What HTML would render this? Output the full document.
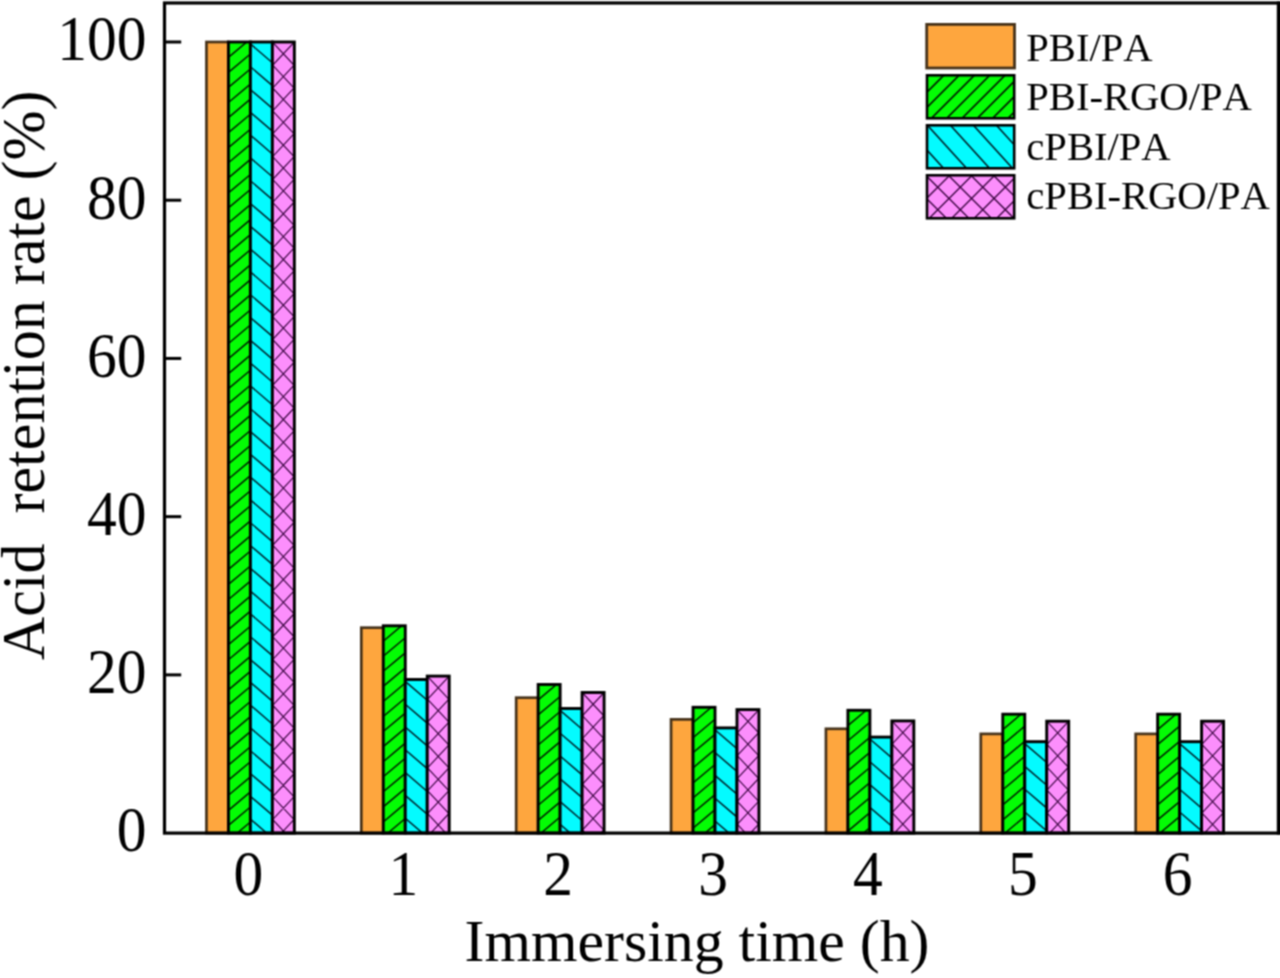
<!DOCTYPE html>
<html lang="en"><head><meta charset="utf-8"><title>Acid retention rate</title>
<style>html,body{margin:0;padding:0;background:#fff;overflow:hidden}svg{display:block}text{font-family:"Liberation Serif","Times New Roman",serif;fill:#000;font-kerning:none}</style>
</head><body>
<svg width="1280" height="978" viewBox="0 0 1280 978">
<defs><filter id="soft" color-interpolation-filters="sRGB" filterUnits="userSpaceOnUse" x="-20" y="-20" width="1320" height="1018"><feConvolveMatrix order="3" kernelMatrix="1 2 1 2 4 2 1 2 1" divisor="16" edgeMode="duplicate" preserveAlpha="true"/></filter></defs>
<g filter="url(#soft)">
<rect x="-20" y="-20" width="1320" height="1018" fill="#fff"/>
<rect x="206.46" y="42.00" width="21.97" height="791.10" fill="#FEA63E" stroke="#46321a" stroke-width="2.7"/>
<rect x="228.43" y="42.00" width="21.97" height="791.10" fill="#04FD04"/>
<clipPath id="c1"><rect x="228.43" y="42.00" width="21.97" height="791.10"/></clipPath><g clip-path="url(#c1)" stroke="#011a01" stroke-width="1.5" fill="none"><path d="M228.43 42.30L250.40 23.85M228.43 57.36L250.40 38.91M228.43 72.42L250.40 53.97M228.43 87.48L250.40 69.03M228.43 102.54L250.40 84.09M228.43 117.60L250.40 99.15M228.43 132.66L250.40 114.21M228.43 147.72L250.40 129.27M228.43 162.78L250.40 144.33M228.43 177.84L250.40 159.39M228.43 192.90L250.40 174.45M228.43 207.96L250.40 189.51M228.43 223.02L250.40 204.57M228.43 238.08L250.40 219.63M228.43 253.14L250.40 234.69M228.43 268.20L250.40 249.75M228.43 283.26L250.40 264.81M228.43 298.32L250.40 279.87M228.43 313.38L250.40 294.93M228.43 328.44L250.40 309.99M228.43 343.50L250.40 325.05M228.43 358.56L250.40 340.11M228.43 373.62L250.40 355.17M228.43 388.68L250.40 370.23M228.43 403.74L250.40 385.29M228.43 418.80L250.40 400.35M228.43 433.86L250.40 415.41M228.43 448.92L250.40 430.47M228.43 463.98L250.40 445.53M228.43 479.04L250.40 460.59M228.43 494.10L250.40 475.65M228.43 509.16L250.40 490.71M228.43 524.22L250.40 505.77M228.43 539.28L250.40 520.83M228.43 554.34L250.40 535.89M228.43 569.40L250.40 550.95M228.43 584.46L250.40 566.01M228.43 599.52L250.40 581.07M228.43 614.58L250.40 596.13M228.43 629.64L250.40 611.19M228.43 644.70L250.40 626.25M228.43 659.76L250.40 641.31M228.43 674.82L250.40 656.37M228.43 689.88L250.40 671.43M228.43 704.94L250.40 686.49M228.43 720.00L250.40 701.55M228.43 735.06L250.40 716.61M228.43 750.12L250.40 731.67M228.43 765.18L250.40 746.73M228.43 780.24L250.40 761.79M228.43 795.30L250.40 776.85M228.43 810.36L250.40 791.91M228.43 825.42L250.40 806.97M228.43 840.48L250.40 822.03"/></g>
<rect x="228.43" y="42.00" width="21.97" height="791.10" fill="none" stroke="#000" stroke-width="2.9"/>
<rect x="250.40" y="42.00" width="21.97" height="791.10" fill="#04FBFF"/>
<clipPath id="c2"><rect x="250.40" y="42.00" width="21.97" height="791.10"/></clipPath><g clip-path="url(#c2)" stroke="#01222a" stroke-width="1.5" fill="none"><path d="M250.40 43.90L272.37 62.79M250.40 66.70L272.37 85.59M250.40 89.50L272.37 108.39M250.40 112.30L272.37 131.19M250.40 135.10L272.37 153.99M250.40 157.90L272.37 176.79M250.40 180.70L272.37 199.59M250.40 203.50L272.37 222.39M250.40 226.30L272.37 245.19M250.40 249.10L272.37 267.99M250.40 271.90L272.37 290.79M250.40 294.70L272.37 313.59M250.40 317.50L272.37 336.39M250.40 340.30L272.37 359.19M250.40 363.10L272.37 381.99M250.40 385.90L272.37 404.79M250.40 408.70L272.37 427.59M250.40 431.50L272.37 450.39M250.40 454.30L272.37 473.19M250.40 477.10L272.37 495.99M250.40 499.90L272.37 518.79M250.40 522.70L272.37 541.59M250.40 545.50L272.37 564.39M250.40 568.30L272.37 587.19M250.40 591.10L272.37 609.99M250.40 613.90L272.37 632.79M250.40 636.70L272.37 655.59M250.40 659.50L272.37 678.39M250.40 682.30L272.37 701.19M250.40 705.10L272.37 723.99M250.40 727.90L272.37 746.79M250.40 750.70L272.37 769.59M250.40 773.50L272.37 792.39M250.40 796.30L272.37 815.19M250.40 819.10L272.37 837.99"/></g>
<rect x="250.40" y="42.00" width="21.97" height="791.10" fill="none" stroke="#000" stroke-width="2.9"/>
<rect x="272.37" y="42.00" width="21.97" height="791.10" fill="#FC8EFC"/>
<clipPath id="c3"><rect x="272.37" y="42.00" width="21.97" height="791.10"/></clipPath><g clip-path="url(#c3)" stroke="#3a0540" stroke-width="1.15" fill="none"><path d="M272.37 42.64L294.34 19.13M272.37 65.50L294.34 41.99M272.37 88.36L294.34 64.85M272.37 111.22L294.34 87.71M272.37 134.08L294.34 110.57M272.37 156.94L294.34 133.43M272.37 179.80L294.34 156.29M272.37 202.66L294.34 179.15M272.37 225.52L294.34 202.01M272.37 248.38L294.34 224.87M272.37 271.24L294.34 247.73M272.37 294.10L294.34 270.59M272.37 316.96L294.34 293.45M272.37 339.82L294.34 316.31M272.37 362.68L294.34 339.17M272.37 385.54L294.34 362.03M272.37 408.40L294.34 384.89M272.37 431.26L294.34 407.75M272.37 454.12L294.34 430.61M272.37 476.98L294.34 453.47M272.37 499.84L294.34 476.33M272.37 522.70L294.34 499.19M272.37 545.56L294.34 522.05M272.37 568.42L294.34 544.91M272.37 591.28L294.34 567.77M272.37 614.14L294.34 590.63M272.37 637.00L294.34 613.49M272.37 659.86L294.34 636.35M272.37 682.72L294.34 659.21M272.37 705.58L294.34 682.07M272.37 728.44L294.34 704.93M272.37 751.30L294.34 727.79M272.37 774.16L294.34 750.65M272.37 797.02L294.34 773.51M272.37 819.88L294.34 796.37M272.37 842.74L294.34 819.23M272.37 19.14L294.34 42.65M272.37 42.00L294.34 65.51M272.37 64.86L294.34 88.37M272.37 87.72L294.34 111.23M272.37 110.58L294.34 134.09M272.37 133.44L294.34 156.95M272.37 156.30L294.34 179.81M272.37 179.16L294.34 202.67M272.37 202.02L294.34 225.53M272.37 224.88L294.34 248.39M272.37 247.74L294.34 271.25M272.37 270.60L294.34 294.11M272.37 293.46L294.34 316.97M272.37 316.32L294.34 339.83M272.37 339.18L294.34 362.69M272.37 362.04L294.34 385.55M272.37 384.90L294.34 408.41M272.37 407.76L294.34 431.27M272.37 430.62L294.34 454.13M272.37 453.48L294.34 476.99M272.37 476.34L294.34 499.85M272.37 499.20L294.34 522.71M272.37 522.06L294.34 545.57M272.37 544.92L294.34 568.43M272.37 567.78L294.34 591.29M272.37 590.64L294.34 614.15M272.37 613.50L294.34 637.01M272.37 636.36L294.34 659.87M272.37 659.22L294.34 682.73M272.37 682.08L294.34 705.59M272.37 704.94L294.34 728.45M272.37 727.80L294.34 751.31M272.37 750.66L294.34 774.17M272.37 773.52L294.34 797.03M272.37 796.38L294.34 819.89M272.37 819.24L294.34 842.75"/></g>
<rect x="272.37" y="42.00" width="21.97" height="791.10" fill="none" stroke="#000" stroke-width="2.9"/>
<rect x="361.33" y="627.70" width="21.97" height="205.40" fill="#FEA63E" stroke="#46321a" stroke-width="2.7"/>
<rect x="383.30" y="625.80" width="21.97" height="207.30" fill="#04FD04"/>
<clipPath id="c4"><rect x="383.30" y="625.80" width="21.97" height="207.30"/></clipPath><g clip-path="url(#c4)" stroke="#011a01" stroke-width="1.5" fill="none"><path d="M383.30 626.10L405.27 607.65M383.30 641.16L405.27 622.71M383.30 656.22L405.27 637.77M383.30 671.28L405.27 652.83M383.30 686.34L405.27 667.89M383.30 701.40L405.27 682.95M383.30 716.46L405.27 698.01M383.30 731.52L405.27 713.07M383.30 746.58L405.27 728.13M383.30 761.64L405.27 743.19M383.30 776.70L405.27 758.25M383.30 791.76L405.27 773.31M383.30 806.82L405.27 788.37M383.30 821.88L405.27 803.43M383.30 836.94L405.27 818.49"/></g>
<rect x="383.30" y="625.80" width="21.97" height="207.30" fill="none" stroke="#000" stroke-width="2.9"/>
<rect x="405.27" y="679.50" width="21.97" height="153.60" fill="#04FBFF"/>
<clipPath id="c5"><rect x="405.27" y="679.50" width="21.97" height="153.60"/></clipPath><g clip-path="url(#c5)" stroke="#01222a" stroke-width="1.5" fill="none"><path d="M405.27 681.40L427.24 700.29M405.27 704.20L427.24 723.09M405.27 727.00L427.24 745.89M405.27 749.80L427.24 768.69M405.27 772.60L427.24 791.49M405.27 795.40L427.24 814.29M405.27 818.20L427.24 837.09"/></g>
<rect x="405.27" y="679.50" width="21.97" height="153.60" fill="none" stroke="#000" stroke-width="2.9"/>
<rect x="427.24" y="676.10" width="21.97" height="157.00" fill="#FC8EFC"/>
<clipPath id="c6"><rect x="427.24" y="676.10" width="21.97" height="157.00"/></clipPath><g clip-path="url(#c6)" stroke="#3a0540" stroke-width="1.15" fill="none"><path d="M427.24 676.74L449.21 653.23M427.24 699.60L449.21 676.09M427.24 722.46L449.21 698.95M427.24 745.32L449.21 721.81M427.24 768.18L449.21 744.67M427.24 791.04L449.21 767.53M427.24 813.90L449.21 790.39M427.24 836.76L449.21 813.25M427.24 653.24L449.21 676.75M427.24 676.10L449.21 699.61M427.24 698.96L449.21 722.47M427.24 721.82L449.21 745.33M427.24 744.68L449.21 768.19M427.24 767.54L449.21 791.05M427.24 790.40L449.21 813.91M427.24 813.26L449.21 836.77"/></g>
<rect x="427.24" y="676.10" width="21.97" height="157.00" fill="none" stroke="#000" stroke-width="2.9"/>
<rect x="516.20" y="697.70" width="21.97" height="135.40" fill="#FEA63E" stroke="#46321a" stroke-width="2.7"/>
<rect x="538.17" y="684.50" width="21.97" height="148.60" fill="#04FD04"/>
<clipPath id="c7"><rect x="538.17" y="684.50" width="21.97" height="148.60"/></clipPath><g clip-path="url(#c7)" stroke="#011a01" stroke-width="1.5" fill="none"><path d="M538.17 684.80L560.14 666.35M538.17 699.86L560.14 681.41M538.17 714.92L560.14 696.47M538.17 729.98L560.14 711.53M538.17 745.04L560.14 726.59M538.17 760.10L560.14 741.65M538.17 775.16L560.14 756.71M538.17 790.22L560.14 771.77M538.17 805.28L560.14 786.83M538.17 820.34L560.14 801.89M538.17 835.40L560.14 816.95M538.17 850.46L560.14 832.01"/></g>
<rect x="538.17" y="684.50" width="21.97" height="148.60" fill="none" stroke="#000" stroke-width="2.9"/>
<rect x="560.14" y="708.50" width="21.97" height="124.60" fill="#04FBFF"/>
<clipPath id="c8"><rect x="560.14" y="708.50" width="21.97" height="124.60"/></clipPath><g clip-path="url(#c8)" stroke="#01222a" stroke-width="1.5" fill="none"><path d="M560.14 710.40L582.11 729.29M560.14 733.20L582.11 752.09M560.14 756.00L582.11 774.89M560.14 778.80L582.11 797.69M560.14 801.60L582.11 820.49M560.14 824.40L582.11 843.29"/></g>
<rect x="560.14" y="708.50" width="21.97" height="124.60" fill="none" stroke="#000" stroke-width="2.9"/>
<rect x="582.11" y="692.50" width="21.97" height="140.60" fill="#FC8EFC"/>
<clipPath id="c9"><rect x="582.11" y="692.50" width="21.97" height="140.60"/></clipPath><g clip-path="url(#c9)" stroke="#3a0540" stroke-width="1.15" fill="none"><path d="M582.11 693.14L604.08 669.63M582.11 716.00L604.08 692.49M582.11 738.86L604.08 715.35M582.11 761.72L604.08 738.21M582.11 784.58L604.08 761.07M582.11 807.44L604.08 783.93M582.11 830.30L604.08 806.79M582.11 853.16L604.08 829.65M582.11 669.64L604.08 693.15M582.11 692.50L604.08 716.01M582.11 715.36L604.08 738.87M582.11 738.22L604.08 761.73M582.11 761.08L604.08 784.59M582.11 783.94L604.08 807.45M582.11 806.80L604.08 830.31M582.11 829.66L604.08 853.17"/></g>
<rect x="582.11" y="692.50" width="21.97" height="140.60" fill="none" stroke="#000" stroke-width="2.9"/>
<rect x="671.07" y="719.40" width="21.97" height="113.70" fill="#FEA63E" stroke="#46321a" stroke-width="2.7"/>
<rect x="693.04" y="707.30" width="21.97" height="125.80" fill="#04FD04"/>
<clipPath id="c10"><rect x="693.04" y="707.30" width="21.97" height="125.80"/></clipPath><g clip-path="url(#c10)" stroke="#011a01" stroke-width="1.5" fill="none"><path d="M693.04 707.60L715.01 689.15M693.04 722.66L715.01 704.21M693.04 737.72L715.01 719.27M693.04 752.78L715.01 734.33M693.04 767.84L715.01 749.39M693.04 782.90L715.01 764.45M693.04 797.96L715.01 779.51M693.04 813.02L715.01 794.57M693.04 828.08L715.01 809.63M693.04 843.14L715.01 824.69"/></g>
<rect x="693.04" y="707.30" width="21.97" height="125.80" fill="none" stroke="#000" stroke-width="2.9"/>
<rect x="715.01" y="727.90" width="21.97" height="105.20" fill="#04FBFF"/>
<clipPath id="c11"><rect x="715.01" y="727.90" width="21.97" height="105.20"/></clipPath><g clip-path="url(#c11)" stroke="#01222a" stroke-width="1.5" fill="none"><path d="M715.01 729.80L736.98 748.69M715.01 752.60L736.98 771.49M715.01 775.40L736.98 794.29M715.01 798.20L736.98 817.09M715.01 821.00L736.98 839.89"/></g>
<rect x="715.01" y="727.90" width="21.97" height="105.20" fill="none" stroke="#000" stroke-width="2.9"/>
<rect x="736.98" y="709.60" width="21.97" height="123.50" fill="#FC8EFC"/>
<clipPath id="c12"><rect x="736.98" y="709.60" width="21.97" height="123.50"/></clipPath><g clip-path="url(#c12)" stroke="#3a0540" stroke-width="1.15" fill="none"><path d="M736.98 710.24L758.95 686.73M736.98 733.10L758.95 709.59M736.98 755.96L758.95 732.45M736.98 778.82L758.95 755.31M736.98 801.68L758.95 778.17M736.98 824.54L758.95 801.03M736.98 847.40L758.95 823.89M736.98 686.74L758.95 710.25M736.98 709.60L758.95 733.11M736.98 732.46L758.95 755.97M736.98 755.32L758.95 778.83M736.98 778.18L758.95 801.69M736.98 801.04L758.95 824.55M736.98 823.90L758.95 847.41"/></g>
<rect x="736.98" y="709.60" width="21.97" height="123.50" fill="none" stroke="#000" stroke-width="2.9"/>
<rect x="825.94" y="728.80" width="21.97" height="104.30" fill="#FEA63E" stroke="#46321a" stroke-width="2.7"/>
<rect x="847.91" y="710.30" width="21.97" height="122.80" fill="#04FD04"/>
<clipPath id="c13"><rect x="847.91" y="710.30" width="21.97" height="122.80"/></clipPath><g clip-path="url(#c13)" stroke="#011a01" stroke-width="1.5" fill="none"><path d="M847.91 710.60L869.88 692.15M847.91 725.66L869.88 707.21M847.91 740.72L869.88 722.27M847.91 755.78L869.88 737.33M847.91 770.84L869.88 752.39M847.91 785.90L869.88 767.45M847.91 800.96L869.88 782.51M847.91 816.02L869.88 797.57M847.91 831.08L869.88 812.63M847.91 846.14L869.88 827.69"/></g>
<rect x="847.91" y="710.30" width="21.97" height="122.80" fill="none" stroke="#000" stroke-width="2.9"/>
<rect x="869.88" y="737.10" width="21.97" height="96.00" fill="#04FBFF"/>
<clipPath id="c14"><rect x="869.88" y="737.10" width="21.97" height="96.00"/></clipPath><g clip-path="url(#c14)" stroke="#01222a" stroke-width="1.5" fill="none"><path d="M869.88 739.00L891.85 757.89M869.88 761.80L891.85 780.69M869.88 784.60L891.85 803.49M869.88 807.40L891.85 826.29M869.88 830.20L891.85 849.09"/></g>
<rect x="869.88" y="737.10" width="21.97" height="96.00" fill="none" stroke="#000" stroke-width="2.9"/>
<rect x="891.85" y="720.90" width="21.97" height="112.20" fill="#FC8EFC"/>
<clipPath id="c15"><rect x="891.85" y="720.90" width="21.97" height="112.20"/></clipPath><g clip-path="url(#c15)" stroke="#3a0540" stroke-width="1.15" fill="none"><path d="M891.85 721.54L913.82 698.03M891.85 744.40L913.82 720.89M891.85 767.26L913.82 743.75M891.85 790.12L913.82 766.61M891.85 812.98L913.82 789.47M891.85 835.84L913.82 812.33M891.85 698.04L913.82 721.55M891.85 720.90L913.82 744.41M891.85 743.76L913.82 767.27M891.85 766.62L913.82 790.13M891.85 789.48L913.82 812.99M891.85 812.34L913.82 835.85"/></g>
<rect x="891.85" y="720.90" width="21.97" height="112.20" fill="none" stroke="#000" stroke-width="2.9"/>
<rect x="980.81" y="733.90" width="21.97" height="99.20" fill="#FEA63E" stroke="#46321a" stroke-width="2.7"/>
<rect x="1002.78" y="714.20" width="21.97" height="118.90" fill="#04FD04"/>
<clipPath id="c16"><rect x="1002.78" y="714.20" width="21.97" height="118.90"/></clipPath><g clip-path="url(#c16)" stroke="#011a01" stroke-width="1.5" fill="none"><path d="M1002.78 714.50L1024.75 696.05M1002.78 729.56L1024.75 711.11M1002.78 744.62L1024.75 726.17M1002.78 759.68L1024.75 741.23M1002.78 774.74L1024.75 756.29M1002.78 789.80L1024.75 771.35M1002.78 804.86L1024.75 786.41M1002.78 819.92L1024.75 801.47M1002.78 834.98L1024.75 816.53M1002.78 850.04L1024.75 831.59"/></g>
<rect x="1002.78" y="714.20" width="21.97" height="118.90" fill="none" stroke="#000" stroke-width="2.9"/>
<rect x="1024.75" y="741.70" width="21.97" height="91.40" fill="#04FBFF"/>
<clipPath id="c17"><rect x="1024.75" y="741.70" width="21.97" height="91.40"/></clipPath><g clip-path="url(#c17)" stroke="#01222a" stroke-width="1.5" fill="none"><path d="M1024.75 743.60L1046.72 762.49M1024.75 766.40L1046.72 785.29M1024.75 789.20L1046.72 808.09M1024.75 812.00L1046.72 830.89"/></g>
<rect x="1024.75" y="741.70" width="21.97" height="91.40" fill="none" stroke="#000" stroke-width="2.9"/>
<rect x="1046.72" y="721.20" width="21.97" height="111.90" fill="#FC8EFC"/>
<clipPath id="c18"><rect x="1046.72" y="721.20" width="21.97" height="111.90"/></clipPath><g clip-path="url(#c18)" stroke="#3a0540" stroke-width="1.15" fill="none"><path d="M1046.72 721.84L1068.69 698.33M1046.72 744.70L1068.69 721.19M1046.72 767.56L1068.69 744.05M1046.72 790.42L1068.69 766.91M1046.72 813.28L1068.69 789.77M1046.72 836.14L1068.69 812.63M1046.72 698.34L1068.69 721.85M1046.72 721.20L1068.69 744.71M1046.72 744.06L1068.69 767.57M1046.72 766.92L1068.69 790.43M1046.72 789.78L1068.69 813.29M1046.72 812.64L1068.69 836.15"/></g>
<rect x="1046.72" y="721.20" width="21.97" height="111.90" fill="none" stroke="#000" stroke-width="2.9"/>
<rect x="1135.68" y="733.90" width="21.97" height="99.20" fill="#FEA63E" stroke="#46321a" stroke-width="2.7"/>
<rect x="1157.65" y="714.20" width="21.97" height="118.90" fill="#04FD04"/>
<clipPath id="c19"><rect x="1157.65" y="714.20" width="21.97" height="118.90"/></clipPath><g clip-path="url(#c19)" stroke="#011a01" stroke-width="1.5" fill="none"><path d="M1157.65 714.50L1179.62 696.05M1157.65 729.56L1179.62 711.11M1157.65 744.62L1179.62 726.17M1157.65 759.68L1179.62 741.23M1157.65 774.74L1179.62 756.29M1157.65 789.80L1179.62 771.35M1157.65 804.86L1179.62 786.41M1157.65 819.92L1179.62 801.47M1157.65 834.98L1179.62 816.53M1157.65 850.04L1179.62 831.59"/></g>
<rect x="1157.65" y="714.20" width="21.97" height="118.90" fill="none" stroke="#000" stroke-width="2.9"/>
<rect x="1179.62" y="741.70" width="21.97" height="91.40" fill="#04FBFF"/>
<clipPath id="c20"><rect x="1179.62" y="741.70" width="21.97" height="91.40"/></clipPath><g clip-path="url(#c20)" stroke="#01222a" stroke-width="1.5" fill="none"><path d="M1179.62 743.60L1201.59 762.49M1179.62 766.40L1201.59 785.29M1179.62 789.20L1201.59 808.09M1179.62 812.00L1201.59 830.89"/></g>
<rect x="1179.62" y="741.70" width="21.97" height="91.40" fill="none" stroke="#000" stroke-width="2.9"/>
<rect x="1201.59" y="721.20" width="21.97" height="111.90" fill="#FC8EFC"/>
<clipPath id="c21"><rect x="1201.59" y="721.20" width="21.97" height="111.90"/></clipPath><g clip-path="url(#c21)" stroke="#3a0540" stroke-width="1.15" fill="none"><path d="M1201.59 721.84L1223.56 698.33M1201.59 744.70L1223.56 721.19M1201.59 767.56L1223.56 744.05M1201.59 790.42L1223.56 766.91M1201.59 813.28L1223.56 789.77M1201.59 836.14L1223.56 812.63M1201.59 698.34L1223.56 721.85M1201.59 721.20L1223.56 744.71M1201.59 744.06L1223.56 767.57M1201.59 766.92L1223.56 790.43M1201.59 789.78L1223.56 813.29M1201.59 812.64L1223.56 836.15"/></g>
<rect x="1201.59" y="721.20" width="21.97" height="111.90" fill="none" stroke="#000" stroke-width="2.9"/>
<rect x="164.5" y="3.0" width="1114.0" height="830.1" fill="none" stroke="#000" stroke-width="3.2"/>
<rect x="1276.9" y="1.4" width="8" height="833.3000000000001" fill="#000"/>
<text transform="translate(146.5,851.40) scale(1,1.06)" font-size="59.5" text-anchor="end">0</text>
<line x1="164.5" y1="674.88" x2="181.2" y2="674.88" stroke="#000" stroke-width="3"/>
<text transform="translate(146.5,693.18) scale(1,1.06)" font-size="59.5" text-anchor="end">20</text>
<line x1="164.5" y1="516.66" x2="181.2" y2="516.66" stroke="#000" stroke-width="3"/>
<text transform="translate(146.5,534.96) scale(1,1.06)" font-size="59.5" text-anchor="end">40</text>
<line x1="164.5" y1="358.44" x2="181.2" y2="358.44" stroke="#000" stroke-width="3"/>
<text transform="translate(146.5,376.74) scale(1,1.06)" font-size="59.5" text-anchor="end">60</text>
<line x1="164.5" y1="200.22" x2="181.2" y2="200.22" stroke="#000" stroke-width="3"/>
<text transform="translate(146.5,218.52) scale(1,1.06)" font-size="59.5" text-anchor="end">80</text>
<line x1="164.5" y1="42.00" x2="181.2" y2="42.00" stroke="#000" stroke-width="3"/>
<text transform="translate(146.5,60.30) scale(1,1.06)" font-size="59.5" text-anchor="end">100</text>
<text transform="translate(248.40,894.5) scale(1,1.065)" font-size="59.5" text-anchor="middle">0</text>
<text transform="translate(403.27,894.5) scale(1,1.065)" font-size="59.5" text-anchor="middle">1</text>
<text transform="translate(558.14,894.5) scale(1,1.065)" font-size="59.5" text-anchor="middle">2</text>
<text transform="translate(713.01,894.5) scale(1,1.065)" font-size="59.5" text-anchor="middle">3</text>
<text transform="translate(867.88,894.5) scale(1,1.065)" font-size="59.5" text-anchor="middle">4</text>
<text transform="translate(1022.75,894.5) scale(1,1.065)" font-size="59.5" text-anchor="middle">5</text>
<text transform="translate(1177.62,894.5) scale(1,1.065)" font-size="59.5" text-anchor="middle">6</text>
<text x="697" y="961" font-size="59.8" text-anchor="middle">Immersing time (h)</text>
<text transform="translate(44.4,375.3) rotate(-90) scale(1,1.035)" font-size="60" text-anchor="middle" xml:space="preserve">Acid  retention rate (%)</text>
<rect x="926.7" y="24.4" width="87.8" height="43.6" fill="#FEA63E" stroke="#46321a" stroke-width="2.8"/>
<text x="1026.3" y="60.5" font-size="40.6">PBI/PA</text>
<rect x="927.0" y="75.3" width="87.2" height="43.0" fill="#04FD04"/>
<clipPath id="c22"><rect x="927.00" y="75.30" width="87.20" height="43.00"/></clipPath><g clip-path="url(#c22)" stroke="#011a01" stroke-width="1.7" fill="none"><path d="M927.00 76.80L1014.20 -10.40M927.00 92.10L1014.20 4.90M927.00 107.40L1014.20 20.20M927.00 122.70L1014.20 35.50M927.00 138.00L1014.20 50.80M927.00 153.30L1014.20 66.10M927.00 168.60L1014.20 81.40M927.00 183.90L1014.20 96.70M927.00 199.20L1014.20 112.00"/></g>
<rect x="927.0" y="75.3" width="87.2" height="43.0" fill="none" stroke="#000" stroke-width="2.6"/>
<text x="1026.3" y="110" font-size="40.6">PBI-RGO/PA</text>
<rect x="927.0" y="125.3" width="87.2" height="43.0" fill="#04FBFF"/>
<clipPath id="c23"><rect x="927.00" y="125.30" width="87.20" height="43.00"/></clipPath><g clip-path="url(#c23)" stroke="#01222a" stroke-width="1.6" fill="none"><path d="M927.00 48.90L1014.20 144.82M927.00 74.20L1014.20 170.12M927.00 99.50L1014.20 195.42M927.00 124.80L1014.20 220.72M927.00 150.10L1014.20 246.02"/></g>
<rect x="927.0" y="125.3" width="87.2" height="43.0" fill="none" stroke="#000" stroke-width="2.6"/>
<text x="1026.3" y="159.8" font-size="40.6">cPBI/PA</text>
<rect x="927.0" y="175.3" width="87.2" height="43.0" fill="#FC8EFC"/>
<clipPath id="c24"><rect x="927.00" y="175.30" width="87.20" height="43.00"/></clipPath><g clip-path="url(#c24)" stroke="#3a0540" stroke-width="1.4" fill="none"><path d="M927.00 175.50L1014.20 88.30M927.00 198.00L1014.20 110.80M927.00 220.50L1014.20 133.30M927.00 243.00L1014.20 155.80M927.00 265.50L1014.20 178.30M927.00 288.00L1014.20 200.80M927.00 108.90L1014.20 196.10M927.00 131.40L1014.20 218.60M927.00 153.90L1014.20 241.10M927.00 176.40L1014.20 263.60M927.00 198.90L1014.20 286.10"/></g>
<rect x="927.0" y="175.3" width="87.2" height="43.0" fill="none" stroke="#000" stroke-width="2.6"/>
<text x="1026.3" y="209.3" font-size="40.6">cPBI-RGO/PA</text>
</g>
</svg>
</body></html>
